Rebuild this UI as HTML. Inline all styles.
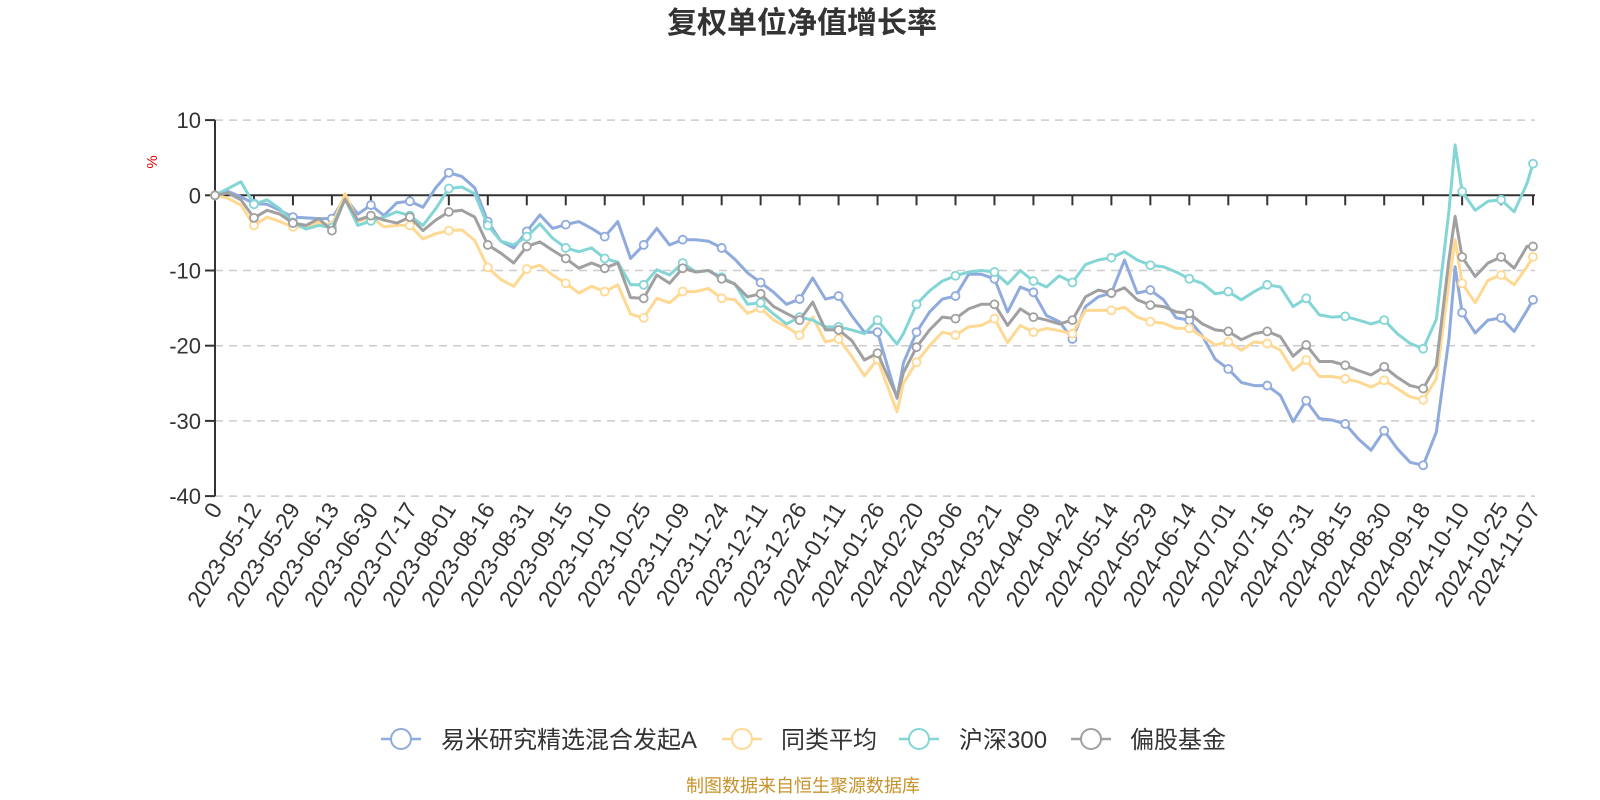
<!DOCTYPE html>
<html><head><meta charset="utf-8"><style>
body{margin:0;background:#fff;}
svg{display:block;font-family:"Liberation Sans","Noto Sans CJK SC",sans-serif;}
</style></head><body>
<svg id="chart" width="1600" height="800" viewBox="0 0 1600 800" xmlns="http://www.w3.org/2000/svg">
<text x="802" y="33" text-anchor="middle" font-size="30" font-weight="bold" fill="#333">复权单位净值增长率</text>
<text x="0" y="0" transform="translate(157,162) rotate(-90)" text-anchor="middle" font-size="15" fill="#e00">%</text>
<g id="grid"></g>
<g id="axes"></g>
<g id="series"></g>
<g font-size="24" fill="#333">
 <g><line x1="381" y1="739" x2="421" y2="739" stroke="#8FAADC" stroke-width="2.5"/><circle cx="401" cy="739" r="10" fill="#fff" stroke="#8FAADC" stroke-width="2"/><text x="441" y="748">易米研究精选混合发起A</text></g>
 <g><line x1="722" y1="739" x2="762" y2="739" stroke="#FFD993" stroke-width="2.5"/><circle cx="742" cy="739" r="10" fill="#fff" stroke="#FFD993" stroke-width="2"/><text x="781" y="748">同类平均</text></g>
 <g><line x1="899" y1="739" x2="939" y2="739" stroke="#84D5D6" stroke-width="2.5"/><circle cx="919" cy="739" r="10" fill="#fff" stroke="#84D5D6" stroke-width="2"/><text x="959" y="748">沪深300</text></g>
 <g><line x1="1071" y1="739" x2="1111" y2="739" stroke="#A0A0A0" stroke-width="2.5"/><circle cx="1091" cy="739" r="10" fill="#fff" stroke="#A0A0A0" stroke-width="2"/><text x="1130" y="748">偏股基金</text></g>
</g>
<text x="803" y="792" text-anchor="middle" font-size="18" fill="#C8922A">制图数据来自恒生聚源数据库</text>
</svg>
<script>
const tickLabels = ["0","2023-05-12","2023-05-29","2023-06-13","2023-06-30","2023-07-17","2023-08-01","2023-08-16","2023-08-31","2023-09-15","2023-10-10","2023-10-25","2023-11-09","2023-11-24","2023-12-11","2023-12-26","2024-01-11","2024-01-26","2024-02-20","2024-03-06","2024-03-21","2024-04-09","2024-04-24","2024-05-14","2024-05-29","2024-06-14","2024-07-01","2024-07-16","2024-07-31","2024-08-15","2024-08-30","2024-09-18","2024-10-10","2024-10-25","2024-11-07"];
const tickDays = [0,11,22,33,44,55,66,77,88,99,110,121,132,143,154,165,176,187,198,209,220,231,242,253,264,275,286,297,308,319,330,341,352,363,372];
const yTicks = [10,0,-10,-20,-30,-40];
const sampleDays = [0,3.7,7.3,11,14.7,18.3,22,25.7,29.3,33,36.7,40.3,44,47.7,51.3,55,58.7,62.3,66,69.7,73.3,77,80.7,84.3,88,91.7,95.3,99,102.7,106.3,110,113.7,117.3,121,124.7,128.3,132,135.7,139.3,143,146.7,150.3,154,157.7,161.3,165,168.7,172.3,176,179.7,183.3,187,192.5,194.3,198,201.7,205.3,209,212.7,216.3,220,223.7,227.3,231,234.7,238.3,242,245.7,249.3,253,256.7,260.3,264,267.7,271.3,275,278.7,282.3,286,289.7,293.3,297,300.7,304.3,308,311.7,315.3,319,322.7,326.3,330,333.7,337.3,341,344.7,348.3,350,352,355.7,359.3,363,366.7,370.3,372];
const fundValues = [0,0.5,-0.2,-1.1,-1.2,-2.0,-2.9,-3.0,-3.1,-3.1,-0.3,-2.5,-1.3,-2.7,-1.0,-0.8,-1.6,1.0,3.0,2.5,1.0,-3.5,-6.1,-7.0,-4.8,-2.6,-4.4,-3.9,-3.5,-4.4,-5.5,-3.5,-8.4,-6.6,-4.4,-6.6,-5.9,-5.9,-6.1,-7.0,-8.5,-10.3,-11.6,-12.9,-14.5,-13.8,-11.0,-13.8,-13.4,-16.0,-18.2,-18.2,-27,-22.3,-18.2,-15.5,-13.8,-13.4,-10.5,-10.5,-11.1,-15.5,-12.2,-12.9,-16.0,-16.8,-19.1,-14.8,-13.5,-13.0,-8.6,-13.0,-12.6,-13.9,-16.3,-16.6,-18.7,-21.8,-23.1,-24.9,-25.3,-25.3,-26.6,-30.1,-27.3,-29.7,-29.9,-30.4,-32.4,-33.9,-31.3,-33.7,-35.5,-35.9,-31.5,-19,-9.5,-15.6,-18.3,-16.6,-16.3,-18.1,-15.3,-13.9];
const peerValues = [0,-0.4,-1.3,-4.0,-2.9,-3.5,-4.2,-4.2,-3.6,-4.0,0.2,-3.5,-2.9,-4.2,-4.0,-4.0,-5.8,-5.1,-4.7,-4.6,-6.0,-9.6,-11.2,-12.1,-9.8,-9.3,-10.6,-11.7,-13.0,-12.1,-12.8,-11.9,-15.8,-16.3,-13.7,-14.3,-12.8,-12.8,-12.4,-13.7,-13.9,-15.7,-15.0,-16.6,-17.5,-18.6,-16.2,-19.5,-19.1,-21.4,-24.0,-21.8,-28.8,-25.0,-22.2,-20.0,-18.2,-18.6,-17.5,-17.3,-16.4,-19.6,-17.3,-18.2,-17.7,-18.0,-18.4,-15.3,-15.3,-15.3,-14.9,-16.2,-16.8,-17.0,-17.7,-17.7,-18.8,-19.9,-19.5,-20.6,-19.5,-19.7,-20.6,-23.3,-21.9,-24.1,-24.1,-24.4,-24.8,-25.5,-24.6,-25.7,-26.8,-27.2,-24.4,-11.5,-5.9,-11.7,-14.3,-11.3,-10.6,-11.9,-9.5,-8.2];
const csi300Values = [0,0.9,1.8,-1.2,-0.6,-1.8,-3.6,-4.5,-4.0,-4.3,-0.5,-4.0,-3.4,-2.9,-2.2,-2.7,-4.0,-1.8,0.9,1.1,0.2,-4.0,-6.1,-6.6,-5.5,-3.8,-5.7,-7.0,-7.5,-7.0,-8.4,-8.9,-11.9,-11.9,-9.9,-10.6,-9.0,-10.2,-10.0,-10.9,-11.8,-14.5,-14.3,-15.8,-17.1,-16.2,-16.6,-17.5,-17.5,-17.9,-18.4,-16.6,-19.8,-18.4,-14.5,-12.7,-11.4,-10.7,-10.2,-10.0,-10.2,-11.8,-10.0,-11.4,-12.2,-10.7,-11.6,-9.2,-8.6,-8.3,-7.5,-8.6,-9.3,-9.5,-10.2,-11.1,-11.7,-13.1,-12.8,-13.9,-12.8,-11.9,-12.2,-14.8,-13.7,-15.9,-16.2,-16.1,-16.6,-17.1,-16.6,-18.4,-19.7,-20.4,-16.5,-2,6.7,0.5,-2.0,-0.8,-0.6,-2.2,1.6,4.2];
const equityValues = [0,0.3,-0.6,-3.0,-2.0,-2.5,-3.7,-4.0,-3.1,-4.7,-0.5,-3.3,-2.7,-3.3,-3.7,-2.9,-4.7,-3.3,-2.2,-2.0,-2.9,-6.6,-7.7,-9.0,-6.8,-6.2,-7.3,-8.4,-9.7,-9.0,-9.7,-9.0,-13.6,-13.7,-10.6,-11.7,-9.7,-10.2,-10.0,-11.1,-11.8,-13.5,-13.1,-14.8,-15.7,-16.6,-14.2,-17.9,-17.9,-19.3,-21.9,-21.0,-26.8,-23.6,-20.2,-17.9,-16.2,-16.4,-15.1,-14.5,-14.5,-17.3,-15.1,-16.2,-16.6,-17.1,-16.6,-13.5,-12.6,-13.0,-12.3,-13.9,-14.6,-14.8,-15.5,-15.7,-17.1,-17.9,-18.1,-19.2,-18.4,-18.1,-18.8,-21.4,-19.9,-22.1,-22.1,-22.6,-23.3,-23.9,-22.8,-24.2,-25.3,-25.7,-22.6,-8.5,-2.8,-8.2,-10.8,-9.0,-8.2,-9.7,-6.8,-6.8];
const seriesNames = ["fund","peer-average","csi300","equity-funds"];
const seriesColors = ["#8FAADC","#FFD993","#84D5D6","#A0A0A0"];

const NS="http://www.w3.org/2000/svg";
const X0=215, X1=1533, DMAX=372, Y0=195.3, PPU=7.52;
function xScale(d){return X0+d*(X1-X0)/DMAX;}
function yScale(v){return Y0-v*PPU;}
function mk(tag,attrs,parent){const e=document.createElementNS(NS,tag);for(const k in attrs)e.setAttribute(k,attrs[k]);parent.appendChild(e);return e;}

const grid=document.getElementById('grid'), axes=document.getElementById('axes'), ser=document.getElementById('series');
yTicks.forEach(v=>{
  const y=yScale(v);
  if(v!==0){const g=mk('line',{x1:X0,x2:1535,y1:y,y2:y,stroke:'#ccc','stroke-width':1.5,'stroke-dasharray':'8,6'},grid);
  
  }
  const t=mk('line',{x1:X0-10,x2:X0,y1:y,y2:y,stroke:'#333','stroke-width':2},axes);
  
  
  const l=mk('text',{x:X0-14,y:y+8,'text-anchor':'end','font-size':22,fill:'#333'},axes);
  
  
  l.textContent=String(v);
});
const ya=mk('line',{x1:X0,x2:X0,y1:yScale(10),y2:yScale(-40),stroke:'#333','stroke-width':2},axes);


const xa=mk('line',{x1:X0,x2:1535,y1:Y0,y2:Y0,stroke:'#333','stroke-width':2},axes);


tickDays.forEach((d,i)=>{
  const x=xScale(d);
  const t=mk('line',{x1:x,x2:x,y1:Y0,y2:Y0+10,stroke:'#333','stroke-width':2},axes);
  
  
  const l=mk('text',{x:0,y:0,'text-anchor':'end','font-size':23,fill:'#333',transform:`translate(${x+8},${509}) rotate(-58)`},axes);
  
  
  l.textContent=tickLabels[i];
});
[fundValues,peerValues,csi300Values,equityValues].forEach((vals,si)=>{
  const pts=vals.map((v,i)=>xScale(sampleDays[i]).toFixed(1)+','+yScale(v).toFixed(1)).join(' ');
  const p=mk('polyline',{points:pts,fill:'none',stroke:seriesColors[si],'stroke-width':3,'stroke-linejoin':'round'},ser);
  
  
  vals.forEach((v,i)=>{
    const d=sampleDays[i];
    if(tickDays.indexOf(d)>=0 && (d%11===0 || i===vals.length-1)){
      const c=mk('circle',{cx:xScale(d),cy:yScale(v),r:4,fill:'#fff',stroke:seriesColors[si],'stroke-width':1.8},ser);
      
      
    }
  });
});
</script>
</body></html>
